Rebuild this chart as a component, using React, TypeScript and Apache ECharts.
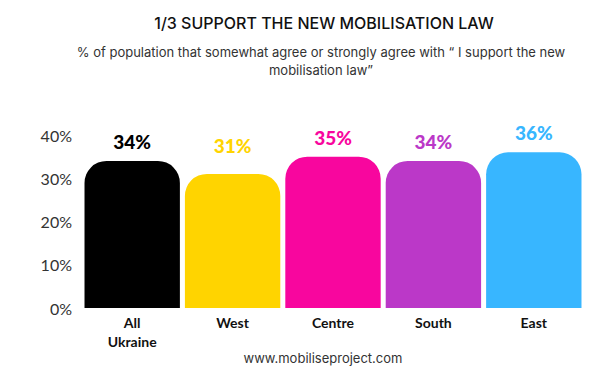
import React, { useEffect, useRef } from "react";
import * as echarts from "echarts";

const categories = ["All\nUkraine", "West", "Centre", "South", "East"];
const values = [34, 31, 35, 34, 36];
const colors = ["#000000", "#FFD400", "#F8069E", "#BB38C8", "#38B6FF"];
const labelDistances = [10, 19, 10, 10, 10];
const yTicks = { min: 0, max: 40, interval: 10 };

export default function App() {
  const ref = useRef<HTMLDivElement>(null);
  useEffect(() => {
    const chart = echarts.init(ref.current!, null, { renderer: "svg" });
    chart.setOption({
      animation: false,
      backgroundColor: "#ffffff",
      textStyle: { fontFamily: "Lato" },
      title: [
        {
          text: "1/3 SUPPORT THE NEW MOBILISATION LAW",
          left: 319,
          top: 10,
          textAlign: "center",
          textStyle: { fontFamily: "Inter", fontSize: 16, fontWeight: 500, color: "#111111" },
        },
        {
          text: "% of population that somewhat agree or strongly agree with \u201c I support the new\nmobilisation law\u201d",
          left: 316,
          top: 38,
          textAlign: "center",
          textStyle: { fontFamily: "Inter", fontSize: 13, fontWeight: 400, color: "#333333", lineHeight: 18 },
        },
        {
          text: "www.mobiliseproject.com",
          left: 318,
          top: 346,
          textAlign: "center",
          textStyle: { fontFamily: "Inter", fontSize: 13, fontWeight: 400, color: "#333333" },
        },
      ],
      grid: { left: 82, right: 16, top: 135, bottom: 65 },
      xAxis: {
        type: "category",
        data: categories,
        axisLine: { show: false },
        axisTick: { show: false },
        axisLabel: {
          margin: 5,
          fontFamily: "Lato",
          fontWeight: "bold",
          fontSize: 14,
          lineHeight: 19,
          color: "#111111",
        },
      },
      yAxis: {
        type: "value",
        min: yTicks.min,
        max: yTicks.max,
        interval: yTicks.interval,
        splitLine: { show: false },
        axisLine: { show: false },
        axisTick: { show: false },
        axisLabel: {
          formatter: "{value}%",
          margin: 10,
          fontFamily: "Lato",
          fontSize: 16,
          color: "#333333",
        },
      },
      series: [
        {
          type: "bar",
          barCategoryGap: "5%",
          data: values.map((v, i) => ({
            value: v,
            itemStyle: { color: colors[i], borderRadius: [22, 22, 0, 0] },
            label: {
              show: true,
              position: "top",
              distance: labelDistances[i],
              formatter: "{c}%",
              color: colors[i],
              fontFamily: "Lato",
              fontWeight: 900,
              fontSize: 19,
            },
          })),
        },
      ],
    });
    return () => chart.dispose();
  }, []);
  return (
    <div
      ref={ref}
      style={{ width: 600, height: 373, position: "fixed", left: 0, top: 0 }}
    />
  );
}
